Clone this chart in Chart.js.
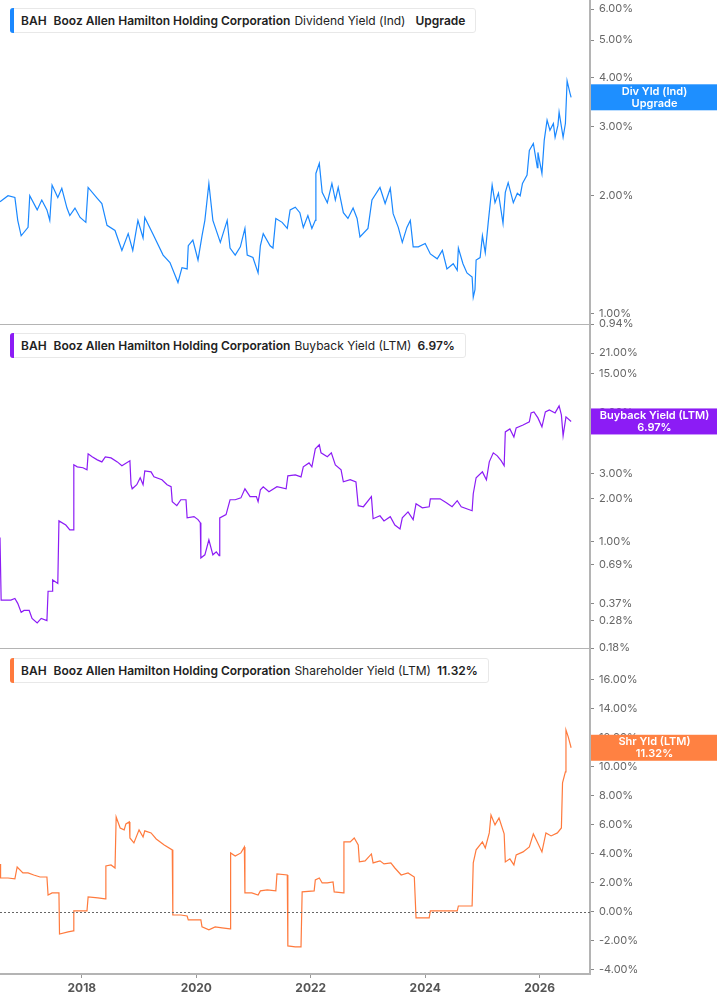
<!DOCTYPE html>
<html lang="en">
<head>
    <meta charset="UTF-8">
    <title>BAH Yields</title>
    <style>
        body {
            margin: 0;
            background: #fff;
            font-family: Inter, "Noto Sans", Arial, sans-serif;
        }
        .wrap {
            position: relative;
            width: 717px;
            height: 1005px;
        }
        .leg {
            position: absolute;
            left: 10px;
            height: 25px;
            box-sizing: border-box;
            border: 1px solid #e8e8e8;
            border-radius: 3px;
            background: #fff;
            display: flex;
            align-items: center;
            padding-left: 10px;
            padding-right: 6px;
            font-size: 12px;
            color: #222;
            white-space: nowrap;
        }
        .leg::before {
            content: '';
            position: absolute;
            left: -1px;
            top: -1px;
            bottom: -1px;
            width: 4px;
            border-radius: 3px 0 0 3px;
            background: var(--c);
        }
        .leg span { margin-right: 6px; }
        .leg b { font-weight: 600; margin-right: 4px; }
        .leg .tk { margin-right: 7px; }
        .leg .up { margin-left: 4px; }
    </style>
</head>
<body>
<div class="wrap">
    <canvas id="yieldChart"></canvas>
    <div class="leg" style="top:8px;--c:#1a88ff"><b class="tk">BAH</b><b>Booz Allen Hamilton Holding Corporation</b><span>Dividend Yield (Ind)</span><b class="up">Upgrade</b></div>
    <div class="leg" style="top:333px;--c:#8c1cf5"><b class="tk">BAH</b><b>Booz Allen Hamilton Holding Corporation</b><span>Buyback Yield (LTM)</span><b>6.97%</b></div>
    <div class="leg" style="top:658px;--c:#ff7a3d"><b class="tk">BAH</b><b>Booz Allen Hamilton Holding Corporation</b><span>Shareholder Yield (LTM)</span><b>11.32%</b></div>
</div>
<script src="https://cdn.jsdelivr.net/npm/chart.js"></script>
<script>
// dates are decimal years, yields in percent
const divDates = [2016.57, 2016.71, 2016.83, 2016.88, 2016.94, 2017.06, 2017.09, 2017.22, 2017.30, 2017.39, 2017.44, 2017.48, 2017.58, 2017.65, 2017.74, 2017.79, 2017.88, 2017.97,
    2018.07, 2018.11, 2018.27, 2018.35, 2018.44, 2018.58, 2018.70, 2018.81, 2018.89, 2018.98, 2019.07, 2019.10, 2019.24, 2019.42, 2019.54, 2019.68, 2019.75, 2019.84, 2019.86, 2019.94,
    2020.03, 2020.10, 2020.15, 2020.22, 2020.29, 2020.42, 2020.54, 2020.59, 2020.68, 2020.77, 2020.85, 2020.89, 2020.99, 2021.08, 2021.12, 2021.17, 2021.29, 2021.34, 2021.39, 2021.50,
    2021.59, 2021.64, 2021.73, 2021.81, 2021.87, 2021.95, 2022.02, 2022.08, 2022.09, 2022.15, 2022.20, 2022.29, 2022.37, 2022.43, 2022.48, 2022.57, 2022.65, 2022.74, 2022.81, 2022.86,
    2023.00, 2023.07, 2023.21, 2023.30, 2023.39, 2023.44, 2023.53, 2023.60, 2023.68, 2023.74, 2023.79, 2023.88, 2024.00, 2024.09, 2024.21, 2024.30, 2024.38, 2024.49, 2024.56, 2024.58,
    2024.66, 2024.73, 2024.82, 2024.84, 2024.87, 2024.89, 2024.96, 2025.00, 2025.05, 2025.10, 2025.17, 2025.22, 2025.28, 2025.36, 2025.40, 2025.45, 2025.54, 2025.61, 2025.66, 2025.70,
    2025.78, 2025.82, 2025.89, 2025.96, 2025.97, 2026.04, 2026.08, 2026.13, 2026.18, 2026.24, 2026.27, 2026.32, 2026.34, 2026.41, 2026.45, 2026.48, 2026.53, 2026.55];
const divYield = [1.93, 2.00, 1.98, 1.73, 1.58, 1.66, 2.00, 1.84, 1.95, 1.84, 1.73, 2.13, 1.98, 2.09, 1.86, 1.78, 1.86, 1.76,
    1.71, 2.10, 1.97, 1.91, 1.68, 1.63, 1.45, 1.60, 1.45, 1.73, 1.56, 1.76, 1.60, 1.41, 1.35, 1.20, 1.31, 1.30, 1.49, 1.54,
    1.37, 1.58, 1.73, 2.15, 1.73, 1.52, 1.73, 1.47, 1.41, 1.48, 1.65, 1.41, 1.39, 1.27, 1.49, 1.60, 1.49, 1.47, 1.75, 1.71,
    1.65, 1.84, 1.87, 1.81, 1.66, 1.78, 1.65, 1.73, 2.28, 2.42, 2.04, 1.92, 2.15, 1.95, 2.10, 1.81, 1.75, 1.86, 1.75, 1.57,
    1.65, 1.95, 2.10, 1.91, 2.09, 1.80, 1.66, 1.52, 1.66, 1.73, 1.48, 1.48, 1.51, 1.42, 1.38, 1.45, 1.30, 1.34, 1.29, 1.47,
    1.34, 1.27, 1.24, 1.10, 1.15, 1.37, 1.39, 1.58, 1.43, 1.70, 2.13, 1.92, 2.03, 1.70, 2.04, 2.16, 1.92, 2.03, 2.00, 2.15,
    2.26, 2.61, 2.72, 2.36, 2.58, 2.28, 2.77, 3.12, 2.94, 3.06, 2.82, 3.03, 3.27, 2.82, 3.06, 3.93, 3.66, 3.57];

const buyDates = [2016.57, 2016.59, 2016.76, 2016.83, 2016.88, 2016.94, 2016.99, 2017.08, 2017.13, 2017.22, 2017.29, 2017.39, 2017.41, 2017.48, 2017.49, 2017.58, 2017.60, 2017.72,
    2017.79, 2017.85, 2017.86, 2017.92, 2018.02, 2018.09, 2018.11, 2018.18, 2018.27, 2018.35, 2018.41, 2018.51, 2018.62, 2018.70, 2018.84, 2018.86, 2018.88, 2018.96, 2019.02, 2019.07,
    2019.10, 2019.21, 2019.26, 2019.40, 2019.49, 2019.56, 2019.58, 2019.66, 2019.73, 2019.82, 2019.84, 2019.96, 2020.03, 2020.07, 2020.08, 2020.15, 2020.22, 2020.29, 2020.35, 2020.40,
    2020.41, 2020.52, 2020.59, 2020.68, 2020.78, 2020.85, 2020.94, 2021.05, 2021.08, 2021.12, 2021.17, 2021.27, 2021.41, 2021.57, 2021.60, 2021.73, 2021.83, 2021.87, 2021.97, 2022.02,
    2022.08, 2022.15, 2022.18, 2022.29, 2022.36, 2022.43, 2022.53, 2022.57, 2022.69, 2022.79, 2022.83, 2022.92, 2023.06, 2023.09, 2023.21, 2023.28, 2023.39, 2023.47, 2023.56, 2023.60,
    2023.70, 2023.79, 2023.84, 2023.95, 2024.07, 2024.09, 2024.26, 2024.37, 2024.47, 2024.56, 2024.63, 2024.82, 2024.84, 2024.89, 2025.00, 2025.07, 2025.12, 2025.19, 2025.26, 2025.33,
    2025.38, 2025.40, 2025.48, 2025.55, 2025.59, 2025.71, 2025.82, 2025.85, 2025.90, 2025.97, 2026.04, 2026.10, 2026.17, 2026.27, 2026.34, 2026.38, 2026.41, 2026.46, 2026.55];
const buyYield = [1.07, 0.39, 0.39, 0.40, 0.37, 0.32, 0.33, 0.33, 0.29, 0.27, 0.29, 0.28, 0.45, 0.45, 0.54, 0.51, 1.40, 1.31,
    1.21, 1.21, 3.46, 3.35, 3.30, 3.19, 4.13, 3.94, 3.75, 3.63, 3.94, 3.87, 3.63, 3.41, 3.69, 2.51, 2.35, 2.51, 2.81, 2.51,
    3.14, 3.09, 2.85, 2.72, 2.51, 2.43, 1.91, 1.79, 1.97, 1.97, 1.47, 1.50, 1.43, 1.36, 0.77, 0.81, 1.03, 0.81, 0.85, 0.80,
    1.47, 1.55, 1.97, 1.97, 2.03, 2.35, 2.07, 2.07, 1.91, 2.31, 2.43, 2.24, 2.43, 2.35, 2.90, 2.94, 2.85, 3.35, 3.57, 3.35,
    4.48, 4.78, 4.20, 3.94, 4.20, 3.46, 3.19, 2.63, 2.72, 2.63, 1.79, 1.76, 2.07, 1.45, 1.52, 1.40, 1.50, 1.31, 1.23, 1.47,
    1.62, 1.43, 1.85, 1.73, 1.76, 2.00, 2.00, 1.88, 1.76, 1.94, 1.76, 1.65, 2.17, 2.81, 3.09, 2.72, 3.63, 4.20, 4.00, 3.69,
    3.41, 5.89, 6.18, 5.43, 6.28, 6.59, 6.92, 8.00, 8.13, 7.38, 6.39, 8.13, 8.40, 8.00, 8.96, 7.75, 5.52, 7.50, 6.97];

const shrDates = [2016.57, 2016.58, 2016.71, 2016.83, 2016.87, 2016.97, 2017.06, 2017.16, 2017.27, 2017.39, 2017.41, 2017.48, 2017.60, 2017.61, 2017.76, 2017.85, 2017.86, 2018.09,
    2018.11, 2018.28, 2018.41, 2018.42, 2018.51, 2018.58, 2018.60, 2018.67, 2018.74, 2018.77, 2018.83, 2018.84, 2018.91, 2019.00, 2019.07, 2019.10, 2019.21, 2019.30, 2019.44, 2019.58,
    2019.59, 2019.73, 2019.84, 2019.86, 2020.08, 2020.10, 2020.22, 2020.33, 2020.45, 2020.59, 2020.60, 2020.68, 2020.78, 2020.84, 2020.85, 2020.97, 2021.08, 2021.12, 2021.24, 2021.39,
    2021.41, 2021.59, 2021.60, 2021.73, 2021.83, 2021.85, 2022.06, 2022.08, 2022.15, 2022.20, 2022.29, 2022.39, 2022.41, 2022.57, 2022.58, 2022.69, 2022.76, 2022.83, 2022.85, 2022.95,
    2023.06, 2023.09, 2023.21, 2023.28, 2023.40, 2023.47, 2023.58, 2023.70, 2023.81, 2023.84, 2024.07, 2024.09, 2024.40, 2024.56, 2024.58, 2024.82, 2024.84, 2024.89, 2025.00, 2025.05,
    2025.12, 2025.15, 2025.22, 2025.29, 2025.38, 2025.40, 2025.48, 2025.55, 2025.59, 2025.71, 2025.82, 2025.89, 2025.94, 2026.04, 2026.11, 2026.20, 2026.31, 2026.38, 2026.40, 2026.45,
    2026.46, 2026.50, 2026.55];
const shrYield = [3.31, 2.34, 2.34, 2.28, 3.10, 2.69, 2.69, 2.55, 2.41, 2.41, 1.17, 1.31, 1.31, -1.52, -1.38, -1.31, 0.07, 0.07,
    1.03, 0.97, 0.90, 3.17, 3.24, 3.03, 6.55, 5.79, 5.66, 6.07, 6.21, 5.10, 4.76, 5.66, 5.17, 5.59, 5.45, 5.03, 4.62, 4.28,
    -0.21, -0.21, -0.28, -0.55, -0.55, -1.03, -1.24, -1.03, -1.10, -1.17, 4.07, 3.86, 4.07, 4.48, 1.31, 1.31, 1.17, 1.45, 1.52, 1.45,
    2.62, 2.55, -2.34, -2.41, -2.41, 1.38, 1.45, 2.21, 2.34, 2.00, 2.00, 2.07, 1.38, 1.31, 4.83, 4.83, 5.10, 4.62, 3.45, 3.52,
    4.00, 3.38, 3.52, 3.31, 3.38, 3.03, 2.55, 2.69, 2.41, -0.41, -0.41, 0.07, 0.07, 0.07, 0.41, 0.41, 3.38, 4.28, 4.83, 4.41,
    5.45, 6.69, 6.00, 6.48, 5.38, 3.45, 3.66, 3.24, 3.93, 4.14, 4.48, 5.38, 4.97, 4.14, 5.45, 5.24, 5.45, 5.79, 8.90, 9.66,
    12.55, 12.07, 11.32];

const yearTicks = [2018, 2020, 2022, 2024, 2026];
const divTicks = [0.94, 1, 2, 3, 4, 5, 6];
const buyTicks = [0.18, 0.28, 0.37, 0.69, 1, 2, 3, 6, 8, 15, 21];
const shrTicks = [-4, -2, 0, 2, 4, 6, 8, 10, 12, 14, 16];

const priceTags = [
    { axis: 'yDiv', value: divYield[divYield.length - 1], color: '#1e8fff', lines: ['Div Yld (Ind)', 'Upgrade'] },
    { axis: 'yBuy', value: buyYield[buyYield.length - 1], color: '#8c1cf5', lines: ['Buyback Yield (LTM)', '6.97%'] },
    { axis: 'yShr', value: shrYield[shrYield.length - 1], color: '#ff8142', lines: ['Shr Yld (LTM)', '11.32%'] }
];

const toPoints = (xs, ys) => xs.map((x, i) => ({ x: x, y: ys[i] }));

const AXIS_GREY = '#b4b4b4';
const TICK_FONT = { family: 'Inter, "Noto Sans", Arial, sans-serif', size: 11 };

function yAxis(type, min, max, tickList, stackWeight) {
    return {
        type: type,
        position: 'right',
        stack: 'panels',
        stackWeight: stackWeight,
        min: min,
        max: max,
        bounds: 'data',
        afterFit: s => {
            s.width = 127;
            s.paddingTop = 0;
            s.paddingBottom = 0;
        },
        afterBuildTicks: s => { s.ticks = tickList.map(v => ({ value: v })); },
        border: { display: true, color: AXIS_GREY, width: 2 },
        grid: { drawOnChartArea: false, drawTicks: true, tickLength: 4, color: '#888' },
        ticks: {
            autoSkip: false,
            padding: 5,
            color: '#666',
            font: TICK_FONT,
            callback: v => v.toFixed(2) + '%'
        }
    };
}

const panelDecor = {
    id: 'panelDecor',
    afterDraw(chart) {
        const ctx = chart.ctx;
        const area = chart.chartArea;
        ctx.save();
        // separators between panels
        ctx.strokeStyle = AXIS_GREY;
        ctx.lineWidth = 1;
        ['yDiv', 'yBuy'].forEach(id => {
            const y = Math.round(chart.scales[id].bottom) + 0.5;
            ctx.beginPath();
            ctx.moveTo(area.left, y);
            ctx.lineTo(area.right, y);
            ctx.stroke();
        });
        // zero line in shareholder panel
        const zy = Math.round(chart.scales.yShr.getPixelForValue(0)) + 0.5;
        ctx.strokeStyle = '#666';
        ctx.setLineDash([2, 2]);
        ctx.beginPath();
        ctx.moveTo(area.left, zy);
        ctx.lineTo(area.right, zy);
        ctx.stroke();
        ctx.setLineDash([]);
        // last value tags on the right axis
        priceTags.forEach(tag => {
            const yc = chart.scales[tag.axis].getPixelForValue(tag.value);
            ctx.fillStyle = tag.color;
            ctx.fillRect(area.right + 1, yc - 13, chart.width - area.right, 26);
            ctx.fillStyle = '#fff';
            ctx.font = '600 11px Inter, "Noto Sans", Arial, sans-serif';
            ctx.textAlign = 'center';
            ctx.textBaseline = 'middle';
            const cx = (area.right + chart.width) / 2 + 1;
            ctx.fillText(tag.lines[0], cx, yc - 6);
            ctx.fillText(tag.lines[1], cx, yc + 6);
        });
        ctx.restore();
    }
};

new Chart(document.getElementById('yieldChart'), {
    type: 'line',
    data: {
        datasets: [
            { data: toPoints(divDates, divYield), yAxisID: 'yDiv', borderColor: '#1a88ff' },
            { data: toPoints(buyDates, buyYield), yAxisID: 'yBuy', borderColor: '#8c1cf5' },
            { data: toPoints(shrDates, shrYield), yAxisID: 'yShr', borderColor: '#ff7a3d' }
        ]
    },
    options: {
        responsive: true,
        maintainAspectRatio: false,
        animation: false,
        layout: { padding: 0 },
        elements: {
            point: { radius: 0 },
            line: { borderWidth: 1.2, tension: 0 }
        },
        plugins: {
            legend: { display: false },
            tooltip: { enabled: false }
        },
        scales: {
            x: {
                type: 'linear',
                min: 2016.57,
                max: 2026.88,
                afterFit: s => {
                    s.height = 31;
                    s.paddingLeft = 0;
                    s.paddingRight = 0;
                },
                afterBuildTicks: s => { s.ticks = yearTicks.map(v => ({ value: v })); },
                border: { display: true, color: AXIS_GREY, width: 2 },
                grid: { drawOnChartArea: false, drawTicks: true, tickLength: 4, color: '#999' },
                ticks: {
                    autoSkip: false,
                    maxRotation: 0,
                    padding: 3,
                    color: '#555',
                    font: { family: TICK_FONT.family, size: 12, weight: 'bold' },
                    callback: v => String(v)
                }
            },
            yDiv: yAxis('logarithmic', 0.94, 6.33, divTicks, 324),
            yBuy: yAxis('logarithmic', 0.18, 33.6, buyTicks, 324),
            yShr: yAxis('linear', -4.28, 18.2, shrTicks, 326)
        }
    },
    plugins: [panelDecor]
});
</script>
</body>
</html>
